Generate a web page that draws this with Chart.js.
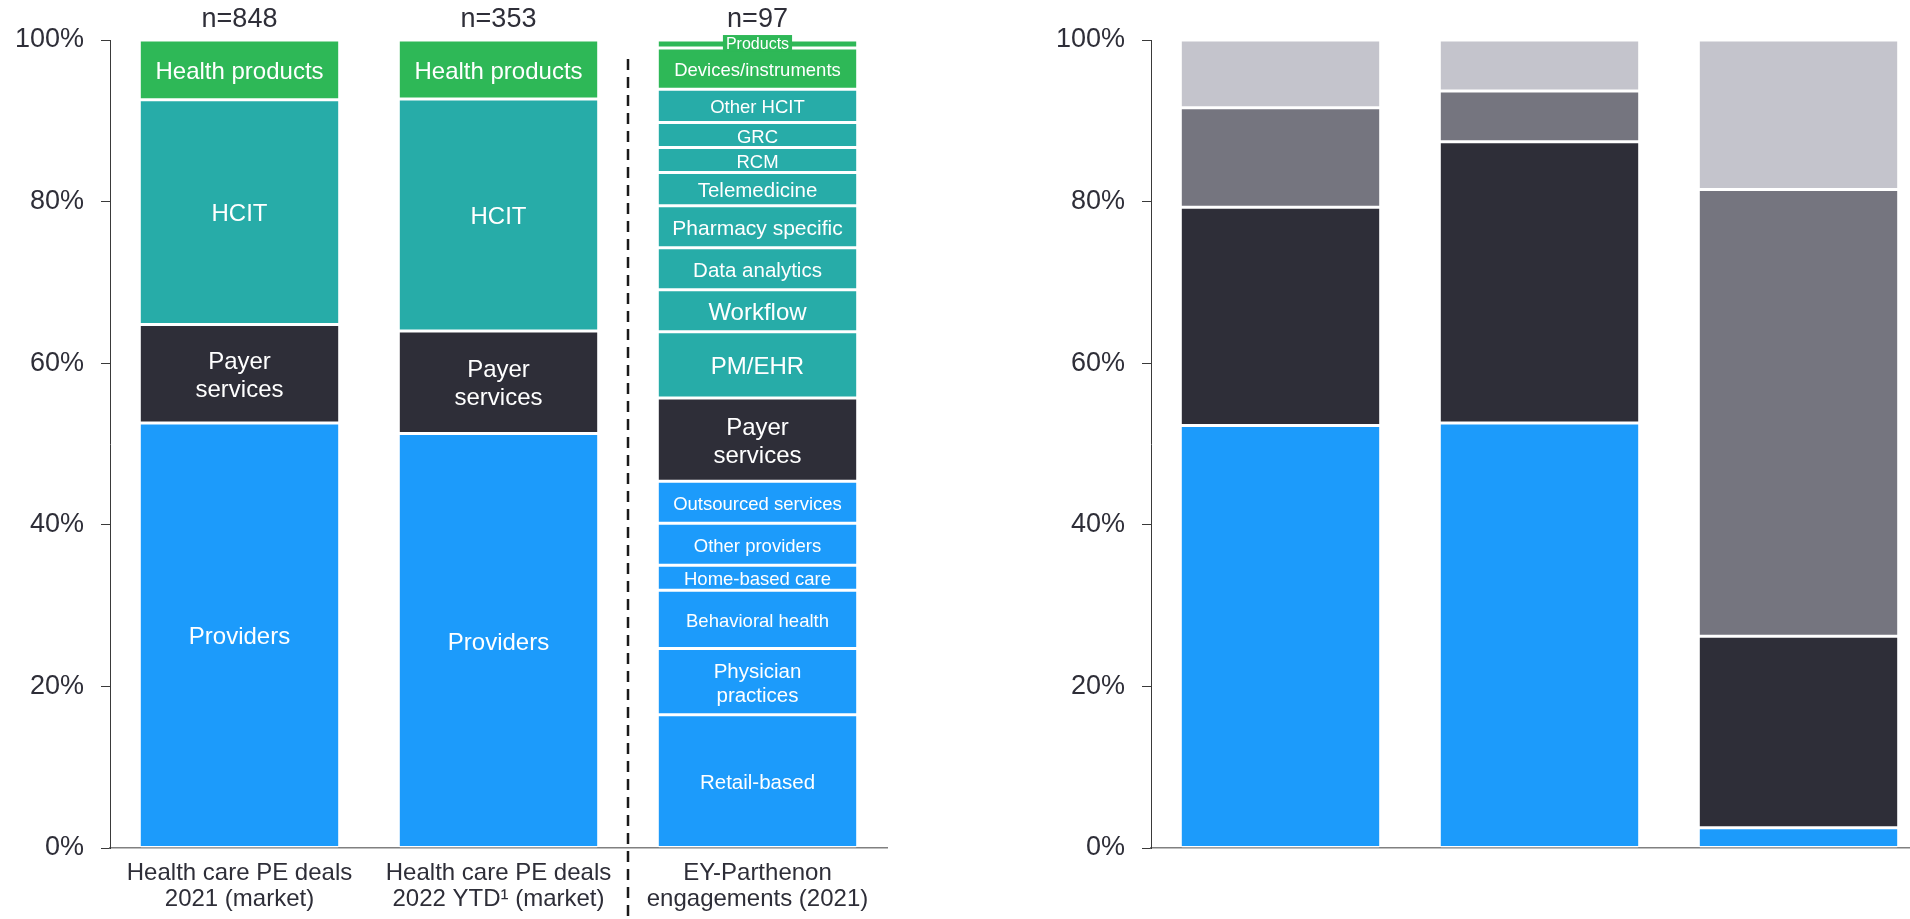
<!DOCTYPE html>
<html>
<head>
<meta charset="utf-8">
<script src="https://cdn.jsdelivr.net/npm/chart.js@4/dist/chart.umd.min.js"></script>
<style>
  html, body { margin: 0; padding: 0; width: 1910px; height: 919px; overflow: hidden; background: #ffffff; }
  canvas { position: absolute; top: 0; }
  #left { left: 0; }
  #right { left: 1000px; }
</style>
</head>
<body>
<canvas id="left" width="960" height="919"></canvas>
<canvas id="right" width="928" height="919"></canvas>
<script>
// ---------------- DATA ----------------
const categories = [
  ['Health care PE deals', '2021 (market)'],
  ['Health care PE deals', '2022 YTD\u00B9 (market)'],
  ['EY-Parthenon', 'engagements (2021)']
];
const sampleSizes = ['n=848', 'n=353', 'n=97'];
const yTickValues = [0, 20, 40, 60, 80, 100];

const marketSegments = ['Providers', 'Payer\nservices', 'HCIT', 'Health products'];
const market2021 = [52.6, 12.2, 27.8, 7.4];
const market2022 = [51.3, 12.7, 28.7, 7.3];

const engagementSegments = [
  'Retail-based', 'Physician\npractices', 'Behavioral health', 'Home-based care',
  'Other providers', 'Outsourced services', 'Payer\nservices', 'PM/EHR', 'Workflow',
  'Data analytics', 'Pharmacy specific', 'Telemedicine', 'RCM', 'GRC', 'Other HCIT',
  'Devices/instruments', 'Products'
];
const engagementGroups = [
  'providers', 'providers', 'providers', 'providers', 'providers', 'providers',
  'payer', 'hcit', 'hcit', 'hcit', 'hcit', 'hcit', 'hcit', 'hcit', 'hcit',
  'products', 'products'
];
const engagement2021 = [16.5, 8.2, 7.2, 3.1, 5.2, 5.2, 10.3, 8.2, 5.2, 5.2, 5.2, 4.1, 3.1, 3.1, 4.1, 5.1, 1.0];

const rightSeriesNames = ['Series 1', 'Series 2', 'Series 3', 'Series 4'];
const rightSeries1 = [52.3, 52.6, 2.5];
const rightSeries2 = [27.0, 34.8, 23.7];
const rightSeries3 = [12.3, 6.3, 55.3];
const rightSeries4 = [8.4, 6.3, 18.5];

// ---------------- STYLES ----------------
const FONT = '"Liberation Sans", Arial, Helvetica, sans-serif';
const TEXT = '#2E2E38';
const groupColors = { providers: '#1C9BFB', payer: '#2E2E38', hcit: '#27ACA8', products: '#2EB857' };
const marketColors = [groupColors.providers, groupColors.payer, groupColors.hcit, groupColors.products];
const rightColors = ['#1C9BFB', '#2E2E38', '#75757F', '#C4C4CC'];
const marketFontSizes = [24, 24, 24, 24];
const engagementFontSizes = [20.5, 20.5, 18.5, 18.5, 18.5, 18.5, 24, 24, 24, 20.5, 21, 20.5, 18.5, 18.5, 18.5, 18.5, 16];
const boxedSegments = ['Products'];
const labelNudge = 2.5;

const segBorder = { top: 1.5, bottom: 1.5, left: 0, right: 0 };

// ---------------- PLUGINS ----------------
const segmentLabels = {
  id: 'segmentLabels',
  afterDatasetsDraw(chart) {
    const ctx = chart.ctx;
    chart.data.datasets.forEach((ds, di) => {
      if (!ds.segText) return;
      const meta = chart.getDatasetMeta(di);
      meta.data.forEach((el, i) => {
        if (ds.data[i] == null) return;
        const c = el.getCenterPoint();
        const size = ds.segFont;
        ctx.save();
        ctx.font = size + 'px ' + FONT;
        ctx.textAlign = 'center';
        ctx.textBaseline = 'middle';
        const lines = ds.segText.split('\n');
        const lh = size * 1.18;
        if (ds.segBoxed) {
          const w = ctx.measureText(ds.segText).width + 6;
          const h = size;
          ctx.fillStyle = ds.backgroundColor;
          ctx.fillRect(c.x - w / 2, c.y - h / 2 - 1, w, h);
        }
        ctx.fillStyle = '#ffffff';
        const nudge = ds.segBoxed ? 0.5 : labelNudge;
        lines.forEach((ln, k) => {
          ctx.fillText(ln, c.x, c.y + nudge + (k - (lines.length - 1) / 2) * lh);
        });
        ctx.restore();
      });
    });
  }
};

const dividerLine = {
  id: 'dividerLine',
  afterDraw(chart) {
    const xs = chart.scales.x;
    const x = (xs.getPixelForValue(1) + xs.getPixelForValue(2)) / 2;
    const ctx = chart.ctx;
    ctx.save();
    ctx.strokeStyle = '#1a1a1a';
    ctx.lineWidth = 2.5;
    ctx.setLineDash([11, 7]);
    ctx.beginPath();
    ctx.moveTo(x, chart.chartArea.top + 19);
    ctx.lineTo(x, chart.height);
    ctx.stroke();
    ctx.restore();
  }
};

// ---------------- COMMON SCALES ----------------
function yScale(width) {
  return {
    stacked: true,
    min: 0,
    max: 100,
    afterBuildTicks(s) { s.ticks = yTickValues.map(v => ({ value: v })); },
    ticks: { callback: v => v + '%', color: TEXT, font: { family: FONT, size: 27 }, padding: 17 },
    grid: { drawOnChartArea: false, drawTicks: true, tickLength: 9, color: '#3a3a3a', lineWidth: 1 },
    border: { display: true, color: '#3a3a3a', width: 1 },
    afterFit(s) { s.width = width; }
  };
}

// ---------------- LEFT CHART ----------------
const leftDatasets = [];
marketSegments.forEach((name, k) => {
  leftDatasets.push({
    label: name.replace('\n', ' '),
    data: [market2021[k], market2022[k], null],
    backgroundColor: marketColors[k],
    segText: name,
    segFont: marketFontSizes[k],
    segBoxed: false
  });
});
engagementSegments.forEach((name, k) => {
  leftDatasets.push({
    label: name.replace('\n', ' '),
    data: [null, null, engagement2021[k]],
    backgroundColor: groupColors[engagementGroups[k]],
    segText: name,
    segFont: engagementFontSizes[k],
    segBoxed: boxedSegments.includes(name)
  });
});
leftDatasets.forEach(ds => {
  ds.borderColor = '#ffffff';
  ds.borderWidth = segBorder;
  ds.borderSkipped = false;
  ds.barPercentage = 0.764;
  ds.categoryPercentage = 1.0;
});

new Chart(document.getElementById('left'), {
  type: 'bar',
  data: { labels: categories, datasets: leftDatasets },
  options: {
    responsive: false,
    animation: false,
    devicePixelRatio: 1,
    layout: { padding: { left: 0, right: 73, top: 0, bottom: 0 } },
    plugins: { legend: { display: false }, tooltip: { enabled: false } },
    scales: {
      x: {
        stacked: true,
        offset: true,
        grid: { display: false, drawTicks: false },
        border: { display: true, color: '#808080', width: 1.5 },
        ticks: { color: TEXT, font: { family: FONT, size: 24, lineHeight: 1.1 }, padding: 12, maxRotation: 0, autoSkip: false },
        afterFit(s) { s.height = 71; }
      },
      x2: {
        type: 'category',
        labels: sampleSizes,
        position: 'top',
        offset: true,
        grid: { display: false, drawTicks: false },
        border: { display: false },
        ticks: { color: TEXT, font: { family: FONT, size: 27 }, padding: 4, maxRotation: 0, autoSkip: false },
        afterFit(s) { s.height = 40; }
      },
      y: yScale(110)
    }
  },
  plugins: [segmentLabels, dividerLine]
});

// ---------------- RIGHT CHART ----------------
const rightValues = [rightSeries1, rightSeries2, rightSeries3, rightSeries4];
const rightDatasets = rightValues.map((vals, k) => ({
  label: rightSeriesNames[k],
  data: vals,
  backgroundColor: rightColors[k],
  borderColor: '#ffffff',
  borderWidth: segBorder,
  borderSkipped: false,
  barPercentage: 0.764,
  categoryPercentage: 1.0
}));

new Chart(document.getElementById('right'), {
  type: 'bar',
  data: { labels: ['', '', ''], datasets: rightDatasets },
  options: {
    responsive: false,
    animation: false,
    devicePixelRatio: 1,
    layout: { padding: { left: 0, right: 0, top: 40, bottom: 0 } },
    plugins: { legend: { display: false }, tooltip: { enabled: false } },
    scales: {
      x: {
        stacked: true,
        offset: true,
        grid: { display: false, drawTicks: false },
        border: { display: true, color: '#808080', width: 1.5 },
        ticks: { display: false },
        afterFit(s) { s.height = 71; }
      },
      y: yScale(151)
    }
  }
});
</script>
</body>
</html>
